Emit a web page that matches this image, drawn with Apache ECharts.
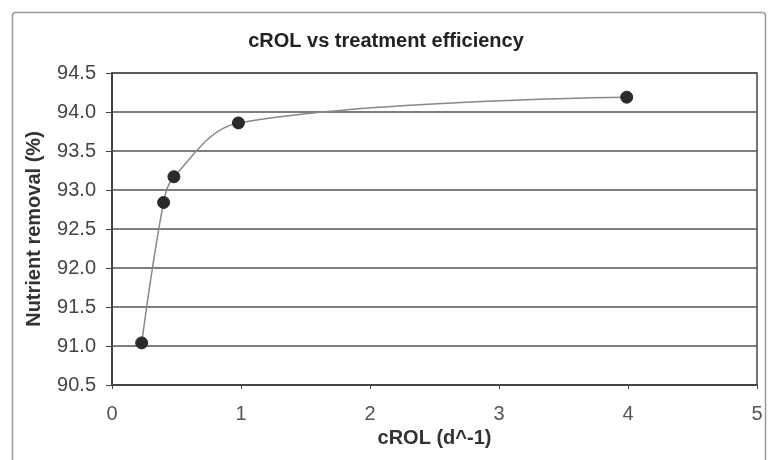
<!DOCTYPE html>
<html>
<head>
<meta charset="utf-8">
<script src="https://cdn.jsdelivr.net/npm/echarts@6/dist/echarts.min.js"></script>
<style>html,body{margin:0;padding:0;background:#fff;}#c{width:772px;height:460px;}</style>
</head>
<body>
<div id="c"></div>
<script>
var titleText = 'cROL vs treatment efficiency';
var xName = 'cROL (d^-1)';
var yName = 'Nutrient removal (%)';
var xValues = [0.23, 0.40, 0.48, 0.98, 3.99];
var yValues = [91.04, 92.84, 93.17, 93.86, 94.19];
var xMin = 0, xMax = 5, xStep = 1;
var yMin = 90.5, yMax = 94.5, yStep = 0.5;

var points = xValues.map(function (x, i) { return [x, yValues[i]]; });
var chart = echarts.init(document.getElementById('c'), null, {renderer: 'canvas'});
var font = 'Arial, "Liberation Sans", Helvetica, sans-serif';
chart.setOption({
  animation: false,
  backgroundColor: '#fff',
  title: {
    text: titleText, left: 'center', top: 26,
    textStyle: {fontFamily: font, fontSize: 20, fontWeight: 'bold', color: '#222'}
  },
  graphic: [{
    type: 'rect', left: 10, top: 10, silent: true,
    shape: {width: 753, height: 470, r: 3},
    style: {fill: 'none', stroke: '#9a9a9a', lineWidth: 1.5}
  }],
  grid: {left: 112, right: 15, top: 73, bottom: 75, show: true, borderColor: '#444', borderWidth: 1.5, backgroundColor: 'transparent'},
  xAxis: {
    type: 'value', min: xMin, max: xMax, interval: xStep,
    name: xName, nameLocation: 'middle', nameGap: 42,
    nameTextStyle: {fontFamily: font, fontSize: 20, fontWeight: 'bold', color: '#333'},
    axisLine: {show: true, lineStyle: {color: '#444', width: 2}},
    axisTick: {show: true, length: 4, lineStyle: {color: '#444', width: 1}},
    axisLabel: {fontFamily: font, fontSize: 20, color: '#555', margin: 19,
      formatter: function (v) { return String(v); }},
    splitLine: {show: false}
  },
  yAxis: {
    type: 'value', min: yMin, max: yMax, interval: yStep,
    name: yName, nameLocation: 'middle', nameGap: 68, nameRotate: 90,
    nameTextStyle: {fontFamily: font, fontSize: 20, fontWeight: 'bold', color: '#333'},
    axisLine: {show: true, lineStyle: {color: '#444', width: 2}},
    axisTick: {show: true, length: 6, lineStyle: {color: '#444', width: 1}},
    axisLabel: {fontFamily: font, fontSize: 20, color: '#444', margin: 16,
      formatter: function (v) { return v.toFixed(1); }},
    splitLine: {show: true, lineStyle: {color: '#555', width: 1.5}}
  },
  series: [{
    type: 'line', data: points, smooth: 0.35,
    symbol: 'circle', symbolSize: 12,
    lineStyle: {color: '#888', width: 1.5},
    itemStyle: {color: '#2a2a2a', borderColor: '#2a2a2a'}
  }]
});
</script>
</body>
</html>
